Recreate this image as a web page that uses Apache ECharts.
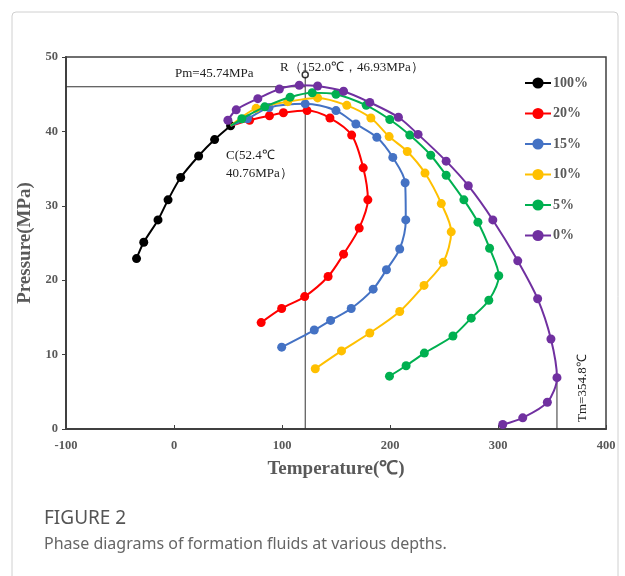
<!DOCTYPE html>
<html>
<head>
<meta charset="utf-8">
<script src="https://cdn.jsdelivr.net/npm/echarts@6/dist/echarts.min.js"></script>
<style>
  html, body { margin: 0; padding: 0; background: #fff; }
  #chart { width: 625px; height: 576px; }
</style>
</head>
<body>
<div id="chart"></div>
<script>
// data: [temperature (°C), pressure (MPa)]
const seriesNames = ["100%", "20%", "15%", "10%", "5%", "0%"];
const seriesColors = ["#000000", "#FF0000", "#4472C4", "#FFC000", "#00B050", "#7030A0"];

const C = [52.4, 40.76];
const d100 = [[-34.7, 22.9], [-28, 25.1], [-14.8, 28.1], [-5.5, 30.8], [6.2, 33.8], [22.8, 36.7], [37.6, 38.9], [52.4, 40.76]];
const d20 = [[70, 41.5], [88.4, 42.1], [101.3, 42.5], [123.2, 42.8], [144.4, 41.8], [164.5, 39.5], [175.2, 35.1], [179.5, 30.8], [171.5, 27.0], [157, 23.5], [142.7, 20.5], [121, 17.8], [99.7, 16.2], [80.7, 14.3]];
const d15 = [[68, 41.7], [88, 43.2], [121.5, 43.7], [150, 42.8], [168.4, 41.0], [187.8, 39.2], [202.6, 36.5], [214, 33.1], [214.6, 28.1], [209, 24.2], [196.7, 21.4], [184.4, 18.8], [164.1, 16.2], [145, 14.6], [129.9, 13.3], [99.7, 11.0]];
const d10 = [[76, 43.1], [105.3, 44.0], [133, 44.5], [160, 43.5], [182.3, 41.8], [199.2, 39.3], [216, 37.3], [232.4, 34.4], [247.5, 30.3], [256.7, 26.5], [249.3, 22.4], [231.5, 19.3], [209, 15.8], [181.3, 12.9], [155.1, 10.5], [130.8, 8.1]];
const d5 = [[62.8, 41.7], [84, 43.3], [107.5, 44.6], [128, 45.2], [150, 45.0], [178, 43.5], [199.8, 41.6], [218.3, 39.5], [237.7, 36.8], [252, 34.1], [268.4, 30.8], [281.4, 27.8], [292.2, 24.3], [300.7, 20.6], [291.5, 17.3], [275.2, 14.9], [258.3, 12.5], [231.8, 10.2], [214.9, 8.5], [199.5, 7.1]];
const d0 = [[49.9, 41.5], [57.6, 42.9], [77.6, 44.4], [97.6, 45.7], [116, 46.2], [133, 46.1], [157, 45.4], [181.3, 43.9], [207.8, 41.9], [226, 39.6], [252, 36.0], [272.5, 32.7], [295.2, 28.1], [318.3, 22.6], [336.7, 17.5], [349, 12.1], [354.6, 6.9], [345.7, 3.6], [322.9, 1.5], [304.4, 0.6]];

// reference lines
const R = [121.5, 47.6];
const pmLine = [[-100, 46.0], [121.5, 46.0]];
const rLine = [[121.5, 47.6], [121.5, 0]];
const tmLine = [[354.6, 6.9], [354.6, 0]];

const xTicks = [-100, 400, 100];
const yTicks = [0, 50, 10];

const allData = [d100, d20, d15, d10, d5, d0];
const serif = "'Liberation Serif', 'Times New Roman', serif";
const grey = "#595959";

let series = allData.map(function (d, i) {
  let data = d;
  if (i > 0 && i < 5) {
    // coloured curves come out of point C
    data = [{ value: C, symbol: "none" }].concat(d);
  }
  return {
    name: seriesNames[i],
    type: "line",
    smooth: 0.3,
    symbol: "circle",
    symbolSize: 9,
    data: data,
    z: 3 + i,
    lineStyle: { width: 2, color: seriesColors[i] },
    itemStyle: { color: seriesColors[i] }
  };
});

function refLine(pts) {
  return {
    type: "line",
    data: pts,
    symbol: "none",
    silent: true,
    z: 2,
    lineStyle: { width: 1, color: "#333" }
  };
}
series.push(refLine(pmLine), refLine(rLine), refLine(tmLine));
series.push({
  type: "scatter",
  data: [R],
  symbol: "circle",
  symbolSize: 6,
  silent: true,
  z: 10,
  itemStyle: { color: "#fff", borderColor: "#000", borderWidth: 1.5 }
});

let chart = echarts.init(document.getElementById("chart"));
let option = {
  animation: false,
  backgroundColor: "#fff",
  textStyle: { fontFamily: serif },
  grid: {
    left: 66, top: 57, right: 19, bottom: 147,
    show: true, borderColor: "#404040", borderWidth: 1.5
  },
  legend: {
    orient: "vertical",
    left: 519,
    top: 71,
    itemWidth: 26,
    itemHeight: 14,
    itemGap: 16.5,
    data: seriesNames,
    textStyle: { fontFamily: serif, fontWeight: "bold", fontSize: 14, color: grey, padding: [0, 0, 0, -3] }
  },
  xAxis: {
    type: "value",
    min: xTicks[0], max: xTicks[1], interval: xTicks[2],
    name: "Temperature(℃)",
    nameLocation: "middle",
    nameGap: 31,
    nameTextStyle: { fontFamily: serif, fontWeight: "bold", fontSize: 19, color: grey },
    axisLine: { onZero: false, lineStyle: { color: "#404040", width: 2 } },
    axisTick: { inside: true, length: 4, lineStyle: { color: "#404040" } },
    axisLabel: { fontFamily: serif, fontWeight: "bold", fontSize: 12.5, color: grey, margin: 10 },
    splitLine: { show: false }
  },
  yAxis: {
    type: "value",
    min: yTicks[0], max: yTicks[1], interval: yTicks[2],
    name: "Pressure(MPa)",
    nameLocation: "middle",
    nameGap: 28,
    nameTextStyle: { fontFamily: serif, fontWeight: "bold", fontSize: 19, color: grey },
    axisLine: { show: true, onZero: false, lineStyle: { color: "#404040", width: 2 } },
    axisTick: { show: true, length: 4, lineStyle: { color: "#404040" } },
    axisLabel: { fontFamily: serif, fontWeight: "bold", fontSize: 12.5, color: grey, margin: 8 },
    splitLine: { show: false }
  },
  graphic: [
    { type: "rect", shape: { x: 12, y: 12, width: 606, height: 620, r: 4 },
      style: { fill: "none", stroke: "#d0d0d0", lineWidth: 1 }, silent: true },
    { type: "text", left: 175, top: 67,
      style: { text: "Pm=45.74MPa", font: "13px " + serif, fill: "#222" } },
    { type: "text", left: 280, top: 61,
      style: { text: "R（152.0℃，46.93MPa）", font: "13px " + serif, fill: "#222" } },
    { type: "text", left: 226, top: 147,
      style: { text: "C(52.4℃\n40.76MPa）", font: "13px " + serif, fill: "#222", lineHeight: 18 } },
    { type: "text", x: 576, y: 422, rotation: Math.PI / 2,
      style: { text: "Tm=354.8℃", font: "13px " + serif, fill: "#222" } },
    { type: "text", left: 44, top: 509,
      style: { text: "FIGURE 2", font: "19px 'Noto Sans', 'Open Sans', sans-serif", fill: "#555" } },
    { type: "text", left: 44, top: 536,
      style: { text: "Phase diagrams of formation fluids at various depths.", font: "16px 'Noto Sans', 'Open Sans', sans-serif", fill: "#666" } }
  ],
  series: series
};
chart.setOption(option);
</script>
</body>
</html>
